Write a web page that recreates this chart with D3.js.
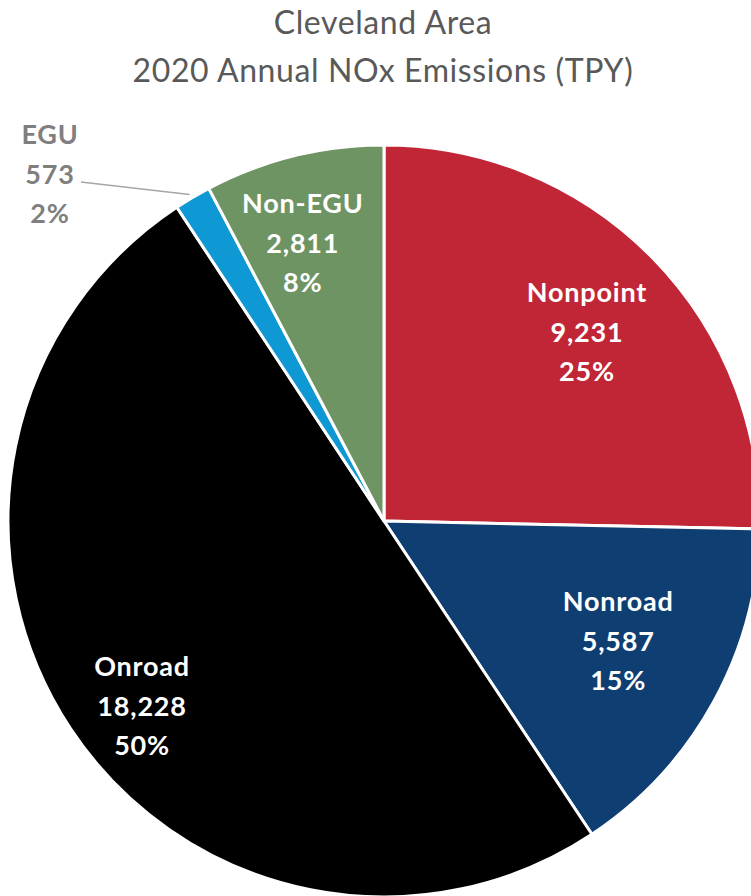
<!DOCTYPE html>
<html><head><meta charset="utf-8">
<script src="https://cdn.jsdelivr.net/npm/d3@7"></script>
<style>body{margin:0;background:#fff}svg{display:block}</style>
</head><body>
<svg id="c" width="751" height="896"></svg>
<script>
const categories = ["Nonpoint","Nonroad","Onroad","EGU","Non-EGU"];
const values = [9231,5587,18228,573,2811];
const percents = ["25%","15%","50%","2%","8%"];
const colors = ["#C12637","#0F3E72","#000000","#0E98D4","#6E9464"];
const titleLines = ["Cleveland Area","2020 Annual NOx Emissions (TPY)"];

// label placement (fraction of radius, angle nudge in degrees) — layout only
const labelPlacement = {
  "Nonpoint":[0.738,1.4], "Nonroad":[0.70,-1.7], "Onroad":[0.81,-3.9], "Non-EGU":[0.77,-2.4]
};

const svg = d3.select("#c");
const cx = 384, cy = 521, R = 376;
const font = "Lato, 'Open Sans', sans-serif";

svg.selectAll("text.title").data(titleLines).join("text")
  .attr("class","title")
  .attr("x", 383).attr("y",(d,i)=>34+i*48)
  .attr("text-anchor","middle")
  .attr("font-family",font).attr("font-size",32).attr("letter-spacing",0.6).attr("fill","#595959")
  .text(d=>d);

const data = categories.map((c,i)=>({name:c,value:values[i],pct:percents[i],color:colors[i]}));
const pie = d3.pie().value(d=>d.value).sort(null);
const arcs = pie(data);
const arc = d3.arc().innerRadius(0).outerRadius(R);
const g = svg.append("g").attr("transform",`translate(${cx},${cy})`);
g.selectAll("path").data(arcs).join("path")
  .attr("d",arc).attr("fill",d=>d.data.color)
  .attr("stroke","#fff").attr("stroke-width",3).attr("stroke-linejoin","round");

const fmt = d3.format(",");
arcs.forEach(a=>{
  let x, y, fill = "#fff";
  if (a.data.name === "EGU") {
    const mid = (a.startAngle+a.endAngle)/2;
    const px = R*Math.sin(mid), py = -R*Math.cos(mid);
    x = 50-cx; y = 174-cy;
    fill = "#7F7F7F";
    g.append("line").attr("x1",x+31).attr("y1",y+8).attr("x2",px-3).attr("y2",py-3)
      .attr("stroke","#A6A6A6").attr("stroke-width",1.5);
  } else {
    const [f, nudge] = labelPlacement[a.data.name];
    const mid = (a.startAngle+a.endAngle)/2 + nudge*Math.PI/180;
    x = R*f*Math.sin(mid); y = -R*f*Math.cos(mid);
  }
  const lines = [a.data.name, fmt(a.data.value), a.data.pct];
  g.append("g").selectAll("text").data(lines).join("text")
    .attr("x",x).attr("y",(d,i)=>y+(i-1)*39.5)
    .attr("dy","0.36em")
    .attr("text-anchor","middle")
    .attr("font-family",font).attr("font-weight","bold").attr("font-size",27).attr("letter-spacing",0.8)
    .attr("fill",fill).text(d=>d);
});
</script>
</body></html>
